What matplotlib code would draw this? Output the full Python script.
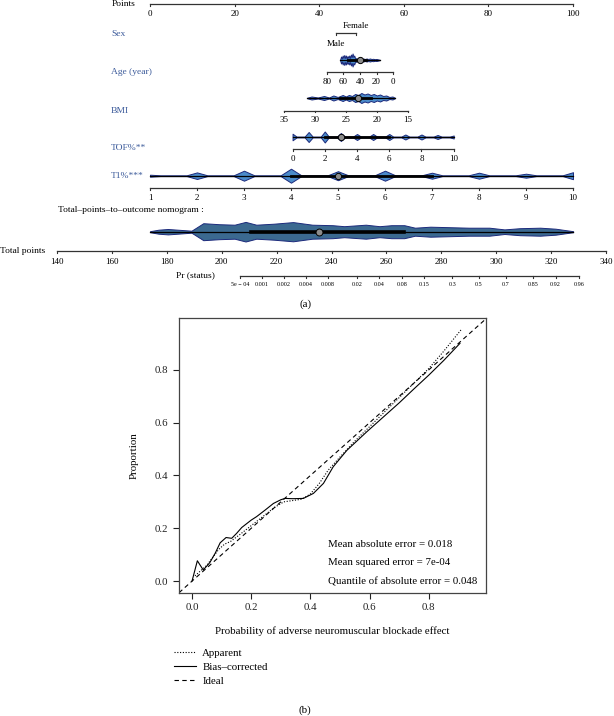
import numpy as np
import matplotlib.pyplot as plt

plt.rcParams['font.family'] = ['Liberation Serif', 'DejaVu Serif']

W, H = 614, 716

# ---- nomogram (a) data ----
points_ticks = [0, 20, 40, 60, 80, 100]
sex_levels = ['Male', 'Female']
sex_points = [43.9, 48.7]
age_ticks = [80, 60, 40, 20, 0]
bmi_ticks = [35, 30, 25, 20, 15]
tof_ticks = [0, 2, 4, 6, 8, 10]
t1_ticks = [1, 2, 3, 4, 5, 6, 7, 8, 9, 10]
total_ticks = [140, 160, 180, 200, 220, 240, 260, 280, 300, 320, 340]
pr_ticks = [5e-04, 0.001, 0.002, 0.004, 0.008, 0.02, 0.04, 0.08, 0.15,
            0.3, 0.5, 0.7, 0.85, 0.92, 0.96]
pr_labels = ['5e \u2212 04', '0.001', '0.002', '0.004', '0.008', '0.02', '0.04',
             '0.08', '0.15', '0.3', '0.5', '0.7', '0.85', '0.92', '0.96']

# violin outlines (value, half height in px)
age_vals = [64, 63, 62, 61, 60, 59, 58, 57, 56, 55, 54, 53, 52, 51, 50, 49,
            48, 47, 46, 44, 42, 40, 38, 36, 34, 32, 30, 28, 26, 24, 22, 20, 18, 16]
age_hw = [0.5, 3.5, 1.5, 4.5, 2, 5, 2, 4.5, 1.5, 4, 2, 4.5, 2, 5.5, 3, 6.5, 3, 4.5, 2,
          1.5, 1.5, 1.5, 1, 1.5, 1, 1.5, 1, 1.5, 1, 1.2, 0.8, 1, 0.6, 0.2]
bmi_vals = [31.2, 30.5, 29.5, 28.5, 27.7, 27, 26.3, 25.5, 25, 24.5, 24, 23.5,
            23, 22.5, 22, 21.5, 21, 20.5, 20, 19.5, 19, 18.5, 18, 17.5, 17.1]
bmi_hw = [0.3, 1.5, 0.5, 2, 0.5, 2.5, 1, 3, 1.5, 3, 2, 4, 3, 5, 3.5, 4.5, 3,
          4, 2.5, 3.5, 2, 2.5, 1, 1.5, 0.2]
tof_peaks = [0, 1, 2, 3, 4, 5, 6, 7, 8, 9, 10]
tof_hw = [3.3, 5, 5.5, 4, 3, 3, 3, 2.5, 2.5, 2, 1.5]
t1_peaks = [1, 2, 3, 4, 5, 6, 7, 8, 9, 10]
t1_hw = [1, 3.3, 5, 7, 4.5, 5, 3, 3, 2, 3.5]
total_vals = [173.9, 177, 180.4, 184, 189, 193.3, 199, 204.7, 208.7, 212.6, 219,
              226, 233, 240.4, 244.6, 252.5, 257.5, 261.8, 266.5, 270.4, 276,
              283, 290, 297.5, 303, 308.6, 316, 321.6, 328]
total_hw = [0.5, 2, 2.7, 2, 1, 8.5, 7.5, 7, 9.8, 7, 8, 9.6, 7, 6.5, 5.5, 7,
            5.5, 6.5, 6.5, 4, 5, 4.5, 4, 4, 2.3, 3.5, 4, 3, 0.5]

# summary lines: (min, q1, median, q3, max)
age_stats = (64, 55, 40, 33, 16)
bmi_stats = (31.2, 26, 23, 21, 17.1)
tof_stats = (0, 2, 3, 6, 10)
t1_stats = (1, 4, 5, 7, 10)
total_stats = (173.9, 210.5, 235.4, 266.5, 328)

# ---- calibration (b) data ----
app_x = [0.01, 0.03, 0.05, 0.07, 0.09, 0.11, 0.13, 0.16, 0.2, 0.24, 0.28, 0.31,
         0.34, 0.37, 0.40, 0.43, 0.46, 0.50, 0.55, 0.60, 0.65, 0.70, 0.75,
         0.80, 0.85, 0.91]
app_y = [0.02, 0.04, 0.06, 0.09, 0.12, 0.14, 0.15, 0.175, 0.21, 0.245, 0.28,
         0.30, 0.305, 0.31, 0.33, 0.37, 0.42, 0.47, 0.53, 0.585, 0.64, 0.695,
         0.75, 0.805, 0.87, 0.953]
bias_x = [0.0, 0.018, 0.038, 0.06, 0.078, 0.095, 0.115, 0.134, 0.15, 0.168,
          0.2, 0.218, 0.247, 0.275, 0.30, 0.314, 0.34, 0.376, 0.41, 0.444,
          0.477, 0.523, 0.59, 0.65, 0.70, 0.75, 0.80, 0.85, 0.905]
bias_y = [0.0, 0.077, 0.042, 0.07, 0.105, 0.145, 0.165, 0.162, 0.18, 0.203,
          0.231, 0.244, 0.269, 0.294, 0.308, 0.313, 0.312, 0.313, 0.332, 0.37,
          0.433, 0.495, 0.565, 0.625, 0.675, 0.728, 0.78, 0.835, 0.90]
stat_lines = ['Mean absolute error = 0.018', 'Mean squared error = 7e-04',
              'Quantile of absolute error = 0.048']


# value -> points
def age_pts(a):
    return 57.45 - 0.1951 * np.asarray(a, float)

def bmi_pts(b):
    return 61.0 - 1.471 * (np.asarray(b, float) - 15)

def tof_pts(t):
    return 33.7 + 3.81 * np.asarray(t, float)

def t1_pts(t):
    return (np.asarray(t, float) - 1) * 100 / 9

def total_pts(tp):
    return -21.99 + 0.649 * (np.asarray(tp, float) - 140)

def pr_pts(p):
    p = np.asarray(p, float)
    return total_pts(293.7 + 11.44 * np.log(p / (1 - p)))


LINE = '#333333'
LAB = '#3b5a9a'
VFC, VEC = '#4b8bca', '#1c2a7c'
TFC = '#3b6990'
FS = 6.8


def scale(ax, y, xs, labels, fs=6.5, off=9.5):
    xs = np.asarray(xs, float)
    ax.plot([xs.min(), xs.max()], [y, y], color=LINE, lw=0.9)
    for x, l in zip(xs, labels):
        ax.plot([x, x], [y, y + 1.6], color=LINE, lw=0.8)
        ax.text(x, y + off, l, ha='center', va='center', fontsize=fs)


def diamonds(peaks, hw, d, lo, hi):
    xs, ws = [], []
    for k, h in zip(peaks, hw):
        if k == lo:
            xs += [k, k, k + d]
            ws += [0, h, 0.4]
        elif k == hi:
            xs += [k - d, k, k]
            ws += [0.4, h, 0]
        else:
            xs += [k - d, k, k + d]
            ws += [0.4, h, 0.4]
    return np.array(xs), np.array(ws)


def violin(ax, y, xs, hw, stats, fc=VFC, thick=2.0, ms=4.5):
    hw = np.asarray(hw, float)
    ax.fill_between(xs, y - hw, y + hw, facecolor=fc, edgecolor=VEC, lw=0.7, zorder=2)
    ax.plot([stats[0], stats[4]], [y, y], color='black', lw=0.9, zorder=3)
    ax.plot([stats[1], stats[3]], [y, y], color='black', lw=thick, zorder=3)
    ax.plot(stats[2], y, 'o', ms=ms, mfc='#8c8c8c', mec='black', mew=0.7, zorder=4)


fig = plt.figure(figsize=(W / 100, H / 100), dpi=100)
ax = fig.add_axes([0, 1 - 300 / H, 1, 300 / H])
ax.set_xlim((0 - 150) / 4.23, (W - 150) / 4.23)
ax.set_ylim(300, 0)
ax.axis('off')

# Points
scale(ax, 4, points_ticks, [str(v) for v in points_ticks])
ax.text(112 / W, 4, 'Points', transform=ax.get_yaxis_transform(), fontsize=FS,
        va='center', ha='left')

# Sex
ax.plot(sex_points, [33.5, 33.5], color=LINE, lw=0.9)
for x in sex_points:
    ax.plot([x, x], [33.5, 35.2], color=LINE, lw=0.8)
ax.text(sex_points[0], 44, sex_levels[0], ha='center', va='center', fontsize=6.5)
ax.text(sex_points[1], 26, sex_levels[1], ha='center', va='center', fontsize=6.5)

# Age
violin(ax, 60, age_pts(age_vals), age_hw, age_pts(age_stats))
scale(ax, 72, age_pts(age_ticks), [str(v) for v in age_ticks])

# BMI
violin(ax, 98, bmi_pts(bmi_vals), bmi_hw, bmi_pts(bmi_stats))
scale(ax, 110.7, bmi_pts(bmi_ticks), [str(v) for v in bmi_ticks])

# TOF%
tx, tw = diamonds(tof_peaks, tof_hw, 0.25, 0, 10)
violin(ax, 137, tof_pts(tx), tw, tof_pts(tof_stats))
scale(ax, 149.3, tof_pts(tof_ticks), [str(v) for v in tof_ticks])

# T1%
tx, tw = diamonds(t1_peaks, t1_hw, 0.22, 1, 10)
violin(ax, 175.7, t1_pts(tx), tw, t1_pts(t1_stats))
scale(ax, 188.3, t1_pts(t1_ticks), [str(v) for v in t1_ticks])

for name, y in [('Sex', 33.5), ('Age (year)', 72), ('BMI', 110.7),
                ('TOF%**', 148.5), ('T1%***', 175.7)]:
    ax.text(111 / W, y, name, transform=ax.get_yaxis_transform(), fontsize=FS,
            va='center', ha='left', color=LAB)

ax.text(58 / W, 210, 'Total\u2013points\u2013to\u2013outcome nomogram :',
        transform=ax.get_yaxis_transform(), fontsize=FS, va='center', ha='left')

violin(ax, 231.7, total_pts(total_vals), total_hw, total_pts(total_stats),
       fc=TFC, thick=2.6, ms=5)
scale(ax, 251, total_pts(total_ticks), [str(v) for v in total_ticks], off=11.5)
ax.text(0, 251, 'Total points', transform=ax.get_yaxis_transform(), fontsize=FS,
        va='center', ha='left')

scale(ax, 276, pr_pts(pr_ticks), pr_labels, fs=4.4, off=8.5)
ax.text(195 / W, 275, 'Pr (status)', transform=ax.get_yaxis_transform(),
        fontsize=FS, va='center', ha='center')

fig.text(305 / W, 1 - 304 / H, '(a)', fontsize=7.8, ha='center', va='center')

# ---- calibration plot ----
ax2 = fig.add_axes([179 / W, 1 - 593 / H, 307 / W, 275 / H])
ax2.set_xlim(-0.044, 0.993)
ax2.set_ylim(-0.045, 0.996)
l1, = ax2.plot(app_x, app_y, ls=(0, (1, 1.5)), color='black', lw=0.8)
l2, = ax2.plot(bias_x, bias_y, ls='-', color='black', lw=0.8)
l3 = ax2.axline((0, 0), slope=1, ls=(0, (4, 3)), color='black', lw=0.8)
ticks = [0.0, 0.2, 0.4, 0.6, 0.8]
ax2.set_xticks(ticks)
ax2.set_yticks(ticks)
ax2.set_xticklabels(['0.0', '0.2', '0.4', '0.6', '0.8'])
ax2.set_yticklabels(['0.0', '0.2', '0.4', '0.6', '0.8'])
ax2.tick_params(direction='out', length=4, width=0.8, labelsize=7.8, colors='#222222')
for s in ax2.spines.values():
    s.set_linewidth(0.9)
    s.set_color('#444444')
ax2.set_xlabel('Probability of adverse neuromuscular blockade effect', fontsize=7.8,
               labelpad=10)
ax2.set_ylabel('Proportion', fontsize=7.8, labelpad=12)
for txt, yy in zip(stat_lines, [0.14, 0.069, -0.004]):
    ax2.text(0.459, yy, txt, fontsize=7.8, ha='left', va='center')

fig.legend([l1, l2, l3], ['Apparent', 'Bias\u2013corrected', 'Ideal'],
           loc='upper left', bbox_to_anchor=(174 / W, 1 - 648 / H), frameon=False,
           fontsize=7.8, handlelength=2.0, labelspacing=0.42, handletextpad=0.6,
           borderaxespad=0, borderpad=0)
fig.text(305 / W, 1 - 710 / H, '(b)', fontsize=7.8, ha='center', va='center')

fig.savefig('out.png', dpi=100)
